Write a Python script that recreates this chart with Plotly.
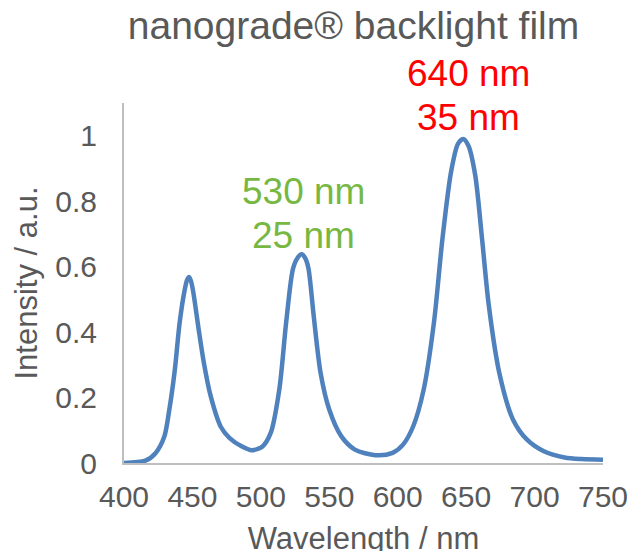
import plotly.graph_objects as go

wavelength = [400, 415.6, 423, 429.4, 433, 437, 440.7, 444.4, 446, 447.5, 449, 450.7, 454.5,
              458.2, 463.3, 470.8, 477, 485.9, 493.4, 501, 507.2, 513.5, 518.5, 523.5, 527,
              529.8, 532.5, 534.8, 538.6, 543.6, 549.9, 558.7, 568.7, 583.8, 596.3, 603.9,
              611.4, 619, 626.5, 632.7, 639, 644, 647.8, 651.6, 656.6, 661.6, 666.6, 674.2,
              684.2, 694.3, 706.8, 721.9, 734.4, 750]
intensity = [0.0, 0.007, 0.03, 0.08, 0.16, 0.28, 0.43, 0.53, 0.558, 0.568, 0.555, 0.52, 0.41,
             0.31, 0.205, 0.11, 0.077, 0.051, 0.039, 0.05, 0.092, 0.225, 0.43, 0.594, 0.628,
             0.638, 0.625, 0.594, 0.45, 0.276, 0.164, 0.082, 0.041, 0.024, 0.031, 0.056,
             0.113, 0.225, 0.43, 0.686, 0.89, 0.975, 0.99, 0.97, 0.88, 0.686, 0.48, 0.276,
             0.133, 0.072, 0.036, 0.017, 0.012, 0.01]
x_ticks = [400, 450, 500, 550, 600, 650, 700, 750]
y_ticks = [0, 0.2, 0.4, 0.6, 0.8, 1]
y_tick_labels = ["0", "0.2", "0.4", "0.6", "0.8", "1"]
green_labels = ["530 nm", "25 nm"]
red_labels = ["640 nm", "35 nm"]

FONT = "Liberation Sans, Arial, sans-serif"
GRAY = "#595959"

fig = go.Figure()
fig.add_trace(go.Scatter(x=wavelength, y=intensity, mode="lines",
                         line=dict(color="#4F81BD", width=4.5, shape="spline", smoothing=0.8),
                         hoverinfo="skip", showlegend=False))

ann = []
for txt, yv in zip(green_labels, [0.7547, 0.6333]):
    ann.append(dict(x=531.5, y=yv, xref="x", yref="paper", text=txt, showarrow=False,
                    xanchor="center", yanchor="middle",
                    font=dict(size=37, color="#77B843", family=FONT)))
for txt, yv in zip(red_labels, [1.0825, 0.9597]):
    ann.append(dict(x=651.4, y=yv, xref="x", yref="paper", text=txt, showarrow=False,
                    xanchor="center", yanchor="middle",
                    font=dict(size=37, color="#FF0000", family=FONT)))

fig.update_layout(
    width=644, height=551,
    margin=dict(l=116, r=49, t=95, b=96),
    paper_bgcolor="white", plot_bgcolor="white",
    title=dict(text="nanograde® backlight film", x=0.5365, xanchor="center", xref="container",
               y=0.969, yanchor="middle", yref="container",
               font=dict(size=39, color=GRAY, family=FONT)),
    font=dict(family=FONT, color=GRAY),
    annotations=ann,
    xaxis=dict(range=[400, 750], tickvals=x_ticks, showgrid=False, zeroline=False,
               showline=True, linecolor="#BFBFBF", linewidth=2, automargin=False,
               tickfont=dict(size=30, color=GRAY), ticklabelstandoff=6,
               title=dict(text="Wavelength / nm", font=dict(size=31, color=GRAY), standoff=15)),
    yaxis=dict(range=[0, 1.1], tickvals=y_ticks, ticktext=y_tick_labels, showgrid=False,
               zeroline=False, showline=True, linecolor="#BFBFBF", linewidth=2, automargin=False,
               tickfont=dict(size=30, color=GRAY), ticklabelstandoff=19,
               title=dict(text="Intensity / a.u.", font=dict(size=31, color=GRAY), standoff=8)),
)

fig.write_html("out.html")
